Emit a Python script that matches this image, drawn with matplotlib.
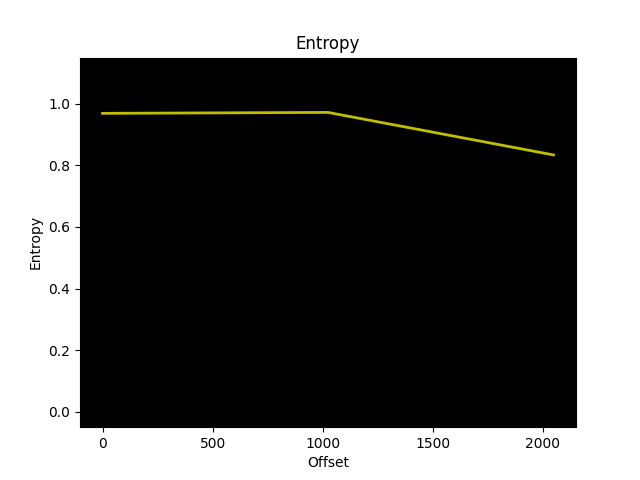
import matplotlib
matplotlib.use("Agg")
import matplotlib.pyplot as plt

# entropy per block offset
offsets = [0, 1024, 2048]
entropy = [0.969, 0.972, 0.834]

fig, ax = plt.subplots(figsize=(6.4, 4.8), dpi=100)
ax.set_facecolor("black")
ax.plot(offsets, entropy, color="y", linewidth=2)
ax.set_ylim(-0.05, 1.15)
ax.set_title("Entropy")
ax.set_xlabel("Offset")
ax.set_ylabel("Entropy")

fig.savefig("out.png")
